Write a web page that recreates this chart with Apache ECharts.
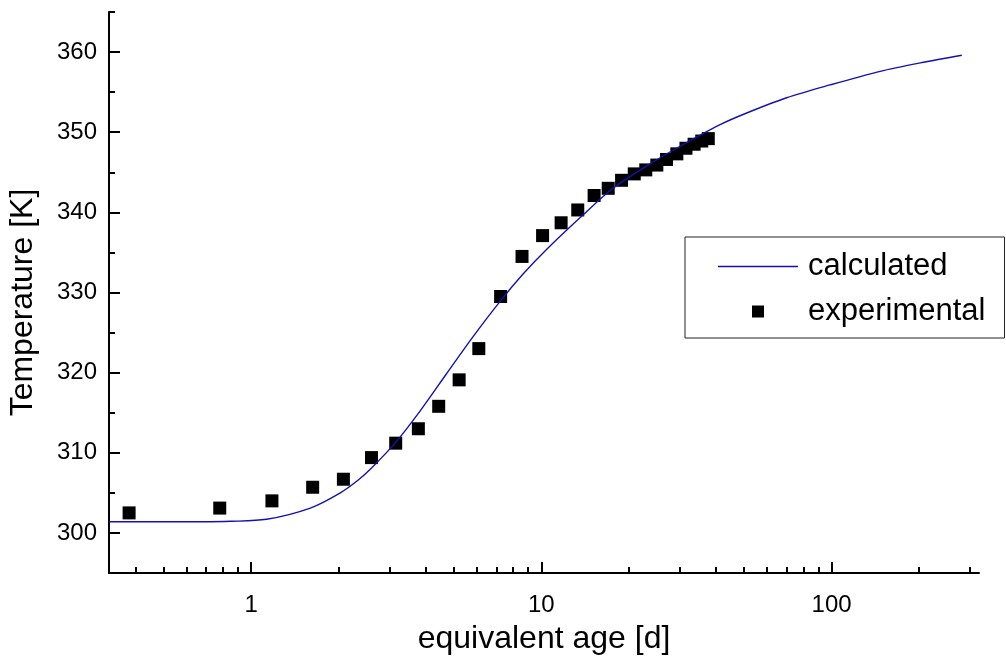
<!DOCTYPE html>
<html>
<head>
<meta charset="utf-8">
<script src="https://cdn.jsdelivr.net/npm/echarts@6/dist/echarts.min.js"></script>
<style>
  html, body { margin: 0; padding: 0; background: #fff; }
  #main { width: 1006px; height: 661px; }
</style>
</head>
<body>
<div id="main"></div>
<script>
// experimental points (age in days, temperature in K)
const expAge = [0.38, 0.78, 1.18, 1.63, 2.08, 2.6, 3.15, 3.77, 4.43, 5.21, 6.09, 7.24, 8.58, 10.1,
  11.7, 13.35, 15.2, 17.0, 18.9, 20.9, 22.9, 25.0, 27.0, 29.3, 31.5, 33.6, 35.7, 37.6]
const expTemp = [302.5, 303.1, 304.0, 305.7, 306.7, 309.4, 311.2, 313.0, 315.8, 319.1, 323.0, 329.5, 334.5, 337.1,
  338.7, 340.3, 342.1, 343.0, 344.0, 344.8, 345.3, 345.9, 346.6, 347.3, 348.0, 348.5, 348.9, 349.2]

// calculated curve
const calcAge = [0.324, 0.45, 0.67, 0.85, 1.13, 1.6, 2.03, 2.34, 2.6, 3.15, 3.82, 4.7, 5.82, 7.21, 8.65,
  10.44, 13.94, 17.65, 23.07, 30.06, 41.3, 51, 70, 98.7, 147, 202, 281]
const calcTemp = [301.4, 301.4, 301.4, 301.45, 301.7, 303.1, 305.0, 306.6, 308.1, 311.3, 315.2, 319.8, 324.5, 328.9, 332.3,
  335.4, 339.7, 343.0, 345.8, 348.25, 350.95, 352.4, 354.3, 355.9, 357.6, 358.65, 359.6]

const xMin = 0.324
const xMax = 322
const xMajor = [1, 10, 100]
const xMinor = [0.4, 0.5, 0.6, 0.7, 0.8, 0.9, 2, 3, 4, 5, 6, 7, 8, 9, 20, 30, 40, 50, 60, 70, 80, 90, 200, 300]
const yMajor = [300, 310, 320, 330, 340, 350, 360]
const yMinor = [305, 315, 325, 335, 345, 355, 365]

const font = 'Liberation Sans, Arial, sans-serif'
const black = '#000'

const chart = echarts.init(document.getElementById('main'))

// helper axes only carry the tick marks (log positions for the x axis)
const tickAxis = (vals, len) => ({
  type: 'value',
  position: 'bottom',
  min: Math.log10(xMin),
  max: Math.log10(xMax),
  axisLine: { show: false, onZero: false },
  axisLabel: { show: false },
  splitLine: { show: false },
  axisTick: { show: true, inside: true, length: len, customValues: vals.map(v => Math.log10(v)),
    lineStyle: { color: black, width: 2 } }
})

chart.setOption({
  animation: false,
  backgroundColor: '#fff',
  textStyle: { fontFamily: font },
  grid: { left: 109, right: 27, top: 12, bottom: 88, outerBoundsMode: 'none' },
  legend: {
    orient: 'vertical',
    left: 685,
    top: 237,
    padding: [14, 19, 11, 33],
    itemGap: 14,
    itemWidth: 80,
    itemHeight: 12,
    borderColor: '#222',
    borderWidth: 1,
    textStyle: { fontSize: 31, color: black, fontFamily: font, padding: [0, 0, 0, 5] },
    data: [
      { name: 'calculated', icon: 'path://M0,0H80V1.3H0Z' },
      { name: 'experimental', icon: 'path://M0,0H10V10H0Z' }
    ]
  },
  xAxis: [
    {
      type: 'log',
      logBase: 10,
      min: xMin,
      max: xMax,
      position: 'bottom',
      name: 'equivalent age [d]',
      nameLocation: 'middle',
      nameGap: 50,
      nameTextStyle: { fontSize: 32, color: black, fontFamily: font },
      axisLine: { onZero: false, lineStyle: { color: black, width: 2 } },
      axisTick: { show: false },
      splitLine: { show: false },
      axisLabel: { fontSize: 24, color: black, margin: 20, showMinLabel: false, showMaxLabel: false }
    },
    tickAxis(xMajor, 11),
    tickAxis(xMinor, 6)
  ],
  yAxis: [
    {
      type: 'value',
      min: 295,
      max: 365,
      position: 'left',
      name: 'Temperature [K]',
      nameLocation: 'middle',
      nameGap: 70,
      nameTextStyle: { fontSize: 32, color: black, fontFamily: font, padding: [0, 20, 0, 0] },
      axisLine: { show: true, onZero: false, lineStyle: { color: black, width: 2 } },
      splitLine: { show: false },
      axisTick: { show: true, inside: true, length: 11, customValues: yMajor, lineStyle: { color: black, width: 2 } },
      axisLabel: { fontSize: 24, color: black, margin: 12, customValues: yMajor }
    },
    {
      type: 'value',
      min: 295,
      max: 365,
      position: 'left',
      axisLine: { show: false, onZero: false },
      splitLine: { show: false },
      axisLabel: { show: false },
      axisTick: { show: true, inside: true, length: 6, customValues: yMinor, lineStyle: { color: black, width: 2 } }
    }
  ],
  series: [
    {
      name: 'calculated',
      type: 'line',
      xAxisIndex: 0,
      yAxisIndex: 0,
      data: calcAge.map((a, i) => [a, calcTemp[i]]),
      showSymbol: false,
      smooth: 0.3,
      color: '#1212b4',
      lineStyle: { width: 1.4, color: '#1212b4' }
    },
    {
      name: 'experimental',
      type: 'scatter',
      xAxisIndex: 0,
      yAxisIndex: 0,
      data: expAge.map((a, i) => [a, expTemp[i]]),
      symbol: 'rect',
      symbolSize: 13,
      itemStyle: { color: black, opacity: 1 }
    }
  ]
})
</script>
</body>
</html>
